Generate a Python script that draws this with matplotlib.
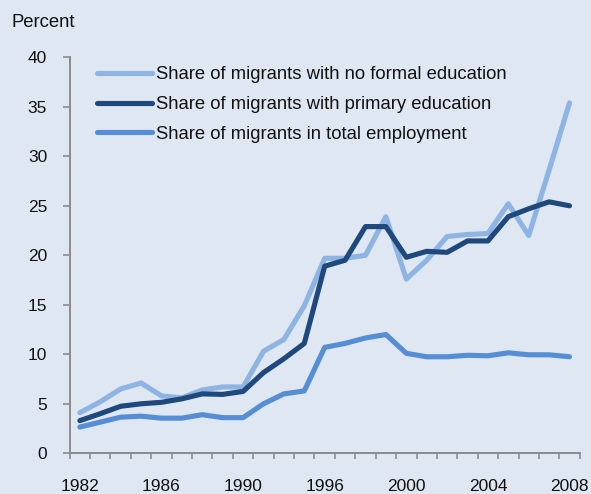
import matplotlib
matplotlib.use("Agg")
import matplotlib.pyplot as plt
import numpy as np

plt.rcParams['font.family'] = ['Liberation Sans', 'DejaVu Sans']

# Survey years (uneven spacing in the early 1990s)
years = ["1982", "1983", "1984", "1985", "1986", "1987", "1988", "1989", "1990",
         "1991", "1993", "1995", "1996", "1997", "1998", "1999", "2000", "2001",
         "2002", "2003", "2004", "2005", "2006", "2007", "2008"]
labelled_years = ["1982", "1986", "1990", "1996", "2000", "2004", "2008"]

no_formal = [4.1, 5.2, 6.5, 7.1, 5.8, 5.6, 6.4, 6.7, 6.7, 10.3, 11.5, 14.9, 19.7,
             19.7, 20.0, 23.9, 17.6, 19.5, 21.9, 22.1, 22.2, 25.2, 22.0, 28.6, 35.4]
primary = [3.3, 4.0, 4.75, 5.0, 5.15, 5.5, 6.0, 5.95, 6.25, 8.15, 9.55, 11.1, 18.9,
           19.5, 22.9, 22.9, 19.8, 20.4, 20.3, 21.45, 21.45, 23.9, 24.7, 25.4, 25.0]
total_emp = [2.65, 3.15, 3.65, 3.75, 3.55, 3.55, 3.9, 3.6, 3.6, 5.0, 6.0, 6.3, 10.7,
             11.1, 11.65, 12.0, 10.1, 9.75, 9.75, 9.9, 9.85, 10.15, 9.95, 9.95, 9.75]

series_labels = ["Share of migrants with no formal education",
                 "Share of migrants with primary education",
                 "Share of migrants in total employment"]
colors = ["#8DB4E3", "#1F497D", "#558ED5"]

bg = "#DFE7F3"
axis_grey = "#8C8C8C"

fig = plt.figure(figsize=(5.91, 4.94), dpi=100, facecolor=bg)
ax = fig.add_axes([0.1179, 0.0824, 0.9809 - 0.1179, 0.884 - 0.0824])
ax.set_facecolor(bg)

x = np.arange(len(years))
for vals, lab, col in zip([no_formal, primary, total_emp], series_labels, colors):
    ax.plot(x, vals, color=col, lw=3.7, label=lab,
            solid_capstyle='round', solid_joinstyle='round')

ax.set_xlim(-0.5, len(years) - 0.5)
ax.set_ylim(0, 40)

# y axis
ax.set_yticks(np.arange(0, 41, 5))
ax.tick_params(axis='y', direction='out', length=4.7, width=1.2, color=axis_grey,
               labelsize=12.5, pad=11.5, labelcolor='#111111')

# x axis: tick marks between categories, labels on selected categories
ax.set_xticks(np.arange(-0.5, len(years)), labels=[""] * (len(years) + 1))
ax.tick_params(axis='x', which='major', direction='out', length=4, width=1.2,
               color=axis_grey)
lab_pos = [years.index(y) for y in labelled_years]
ax.set_xticks(lab_pos, labels=labelled_years, minor=True)
ax.tick_params(axis='x', which='minor', length=0, labelsize=12.5, pad=18.5,
               labelcolor='#111111')

for side in ['top', 'right']:
    ax.spines[side].set_visible(False)
for side in ['left', 'bottom']:
    ax.spines[side].set_color(axis_grey)
    ax.spines[side].set_linewidth(1.4)

leg = ax.legend(loc='upper left', bbox_to_anchor=(0.053, 0.977), frameon=False,
                fontsize=13.3, handlelength=3.0, handletextpad=0.22,
                labelspacing=0.68, borderpad=0, borderaxespad=0)
for t in leg.get_texts():
    t.set_color('#111111')

fig.text(12 / 591, 1 - 22.7 / 494, "Percent", fontsize=13.3, va='center',
         ha='left', color='#111111')

fig.savefig("out.png", dpi=100, facecolor=bg)
